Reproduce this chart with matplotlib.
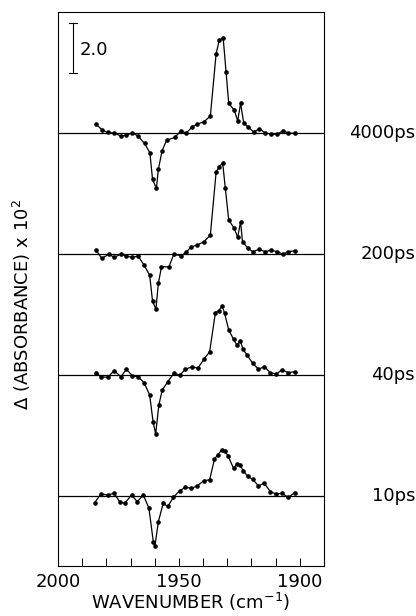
import matplotlib
matplotlib.use('Agg')
import matplotlib.pyplot as plt
from matplotlib.transforms import blended_transform_factory

# wavenumber (cm-1) and delta absorbance x 10^2 for each delay
w4000 = [1984.3, 1981.6, 1979.5, 1976.8, 1974.0, 1971.7, 1969.2, 1966.9, 1964.2, 1962.0,
         1960.9, 1959.3, 1958.5, 1957.0, 1955.1, 1951.7, 1949.3, 1946.9, 1944.5, 1942.4,
         1939.7, 1937.0, 1934.6, 1933.3, 1931.7, 1930.5, 1929.4, 1927.1, 1925.7, 1924.5,
         1923.2, 1921.4, 1919.1, 1916.7, 1914.3, 1911.8, 1909.5, 1907.0, 1904.7, 1902.1]
a4000 = [0.38, 0.12, 0.03, 0.01, -0.12, -0.08, 0.01, -0.12, -0.43, -0.82,
         -1.93, -2.30, -1.51, -0.75, -0.29, -0.18, 0.08, 0.01, 0.26, 0.38,
         0.47, 0.71, 3.32, 3.88, 3.97, 2.55, 1.24, 0.96, 0.51, 1.24,
         0.43, 0.26, 0.05, 0.18, 0.01, -0.04, -0.05, 0.10, 0.01, -0.01]

w200 = [1984.3, 1981.9, 1978.9, 1976.8, 1974.0, 1971.7, 1969.2, 1966.9, 1964.4, 1962.1,
        1960.9, 1959.5, 1958.5, 1957.2, 1954.1, 1952.1, 1949.0, 1946.9, 1944.8, 1942.4,
        1939.7, 1937.0, 1934.6, 1933.3, 1931.9, 1930.8, 1929.4, 1927.1, 1925.7, 1924.5,
        1923.7, 1921.4, 1919.4, 1916.9, 1914.3, 1911.8, 1909.5, 1907.0, 1904.7, 1902.1]
a200 = [0.17, -0.18, 0.0, -0.14, 0.0, -0.08, -0.14, -0.08, -0.46, -0.88,
        -1.96, -2.30, -1.22, -0.53, -0.53, 0.0, -0.08, 0.10, 0.30, 0.38,
        0.51, 0.79, 3.43, 3.64, 3.80, 2.74, 1.42, 1.07, 0.70, 1.35,
        0.51, 0.24, 0.10, 0.20, 0.10, 0.17, 0.10, 0.0, 0.10, 0.14]

w40 = [1984.3, 1982.3, 1979.5, 1976.8, 1974.0, 1971.7, 1969.2, 1966.9, 1964.4, 1962.1,
       1960.7, 1959.6, 1958.3, 1956.9, 1954.6, 1952.1, 1949.6, 1947.3, 1944.5, 1942.2,
       1939.7, 1937.3, 1934.9, 1933.5, 1932.1, 1931.1, 1929.4, 1927.4, 1926.0, 1924.6,
       1923.5, 1921.8, 1919.5, 1917.1, 1914.7, 1912.2, 1909.8, 1907.4, 1904.7, 1902.1]
a40 = [0.10, -0.07, -0.10, 0.18, -0.07, 0.24, -0.04, -0.07, -0.32, -0.83,
       -1.94, -2.46, -1.25, -0.63, -0.28, 0.07, 0.0, 0.24, 0.35, 0.28,
       0.65, 0.97, 2.60, 2.68, 2.88, 2.57, 1.88, 1.49, 1.25, 1.43,
       1.07, 0.83, 0.49, 0.24, 0.35, 0.10, 0.04, 0.21, 0.10, 0.14]

w10 = [1984.8, 1982.3, 1979.5, 1976.8, 1974.5, 1972.4, 1969.6, 1967.2, 1964.7, 1962.4,
       1960.6, 1959.9, 1958.5, 1956.5, 1954.6, 1952.3, 1949.7, 1947.3, 1944.8, 1942.4,
       1939.7, 1937.3, 1935.3, 1934.0, 1932.3, 1931.1, 1929.7, 1927.4, 1926.0, 1924.6,
       1923.5, 1921.6, 1919.5, 1917.1, 1914.7, 1912.2, 1909.8, 1907.4, 1904.7, 1902.1]
a10 = [-0.28, 0.08, 0.04, 0.11, -0.24, -0.31, 0.04, -0.24, 0.04, -0.51,
       -1.90, -2.08, -1.07, -0.31, -0.44, -0.06, 0.22, 0.36, 0.32, 0.42,
       0.64, 0.67, 1.53, 1.71, 1.92, 1.89, 1.67, 1.15, 1.33, 1.29,
       1.05, 0.83, 0.69, 0.42, 0.53, 0.18, 0.08, 0.11, -0.06, 0.14]

labels = ['10ps', '40ps', '200ps', '4000ps']
offsets = [0.0, 5.04, 10.08, 15.12]
series = [(w10, a10), (w40, a40), (w200, a200), (w4000, a4000)]

plt.rcParams['font.family'] = ['DejaVu Sans']
fs = 13
fig = plt.figure(figsize=(4.16, 6.16), dpi=100)
ax = fig.add_axes([58 / 416, 1 - 566 / 616, 266 / 416, 554 / 616])

tr = blended_transform_factory(fig.transFigure, ax.transData)
for (w, a), off, lab in zip(series, offsets, labels):
    ax.axhline(off, color='black', lw=0.9)
    ax.plot(w, [v + off for v in a], '-o', color='black', lw=0.9, ms=2.3)
    ax.text(0.998, off, lab, transform=tr, ha='right', va='center', fontsize=fs)

# scale bar
ax.plot([1993.8, 1993.8], [17.63, 19.71], color='black', lw=0.8)
ax.plot([1992.2, 1995.4], [17.63, 17.63], color='black', lw=0.8)
ax.plot([1992.2, 1995.4], [19.71, 19.71], color='black', lw=0.8)
ax.text(1991.0, 18.6, '2.0', ha='left', va='center', fontsize=fs)

ax.set_xlim(2000, 1890)
ax.set_ylim(-2.92, 20.17)
ax.set_xticks(range(2000, 1889, -10), minor=True)
ax.set_xticks([2000, 1950, 1900])
ax.set_xticklabels(['2000', '1950', '1900'], fontsize=fs)
ax.tick_params(axis='x', which='both', direction='in', length=6, width=0.7, pad=5)
ax.set_yticks([])
for s in ax.spines.values():
    s.set_linewidth(0.8)

ax.set_xlabel('WAVENUMBER (cm$^{-1}$)', fontsize=fs, labelpad=0)
fig.text(22 / 416, 1 - 305 / 616, '$\\Delta$ (ABSORBANCE) x 10$^2$', rotation=90,
         ha='center', va='center', fontsize=fs)

fig.savefig('out.png', dpi=100)
